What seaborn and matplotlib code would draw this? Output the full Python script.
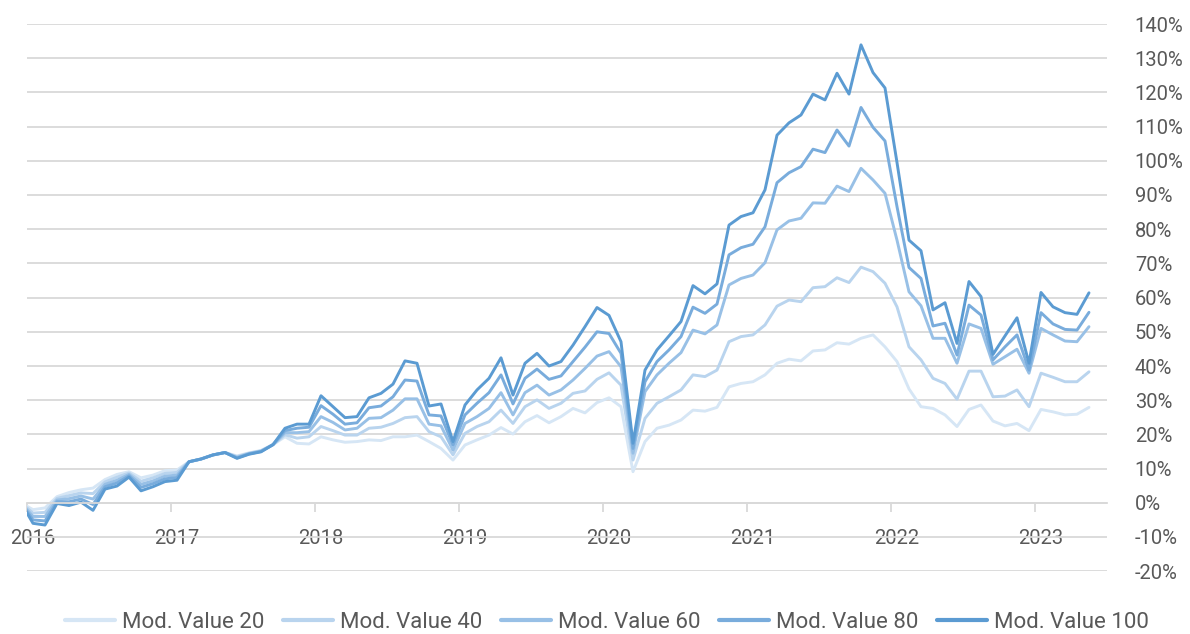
import numpy as np
import pandas as pd
import matplotlib
matplotlib.use("Agg")
import matplotlib.pyplot as plt
import seaborn as sns

# ---- data (monthly, Dec 2015 base = 0 through May 2023), values in % ----
series_names = ["Mod. Value 20", "Mod. Value 40", "Mod. Value 60", "Mod. Value 80", "Mod. Value 100"]
year_labels = ["2016", "2017", "2018", "2019", "2020", "2021", "2022", "2023"]

mod_value_20 = [0.0,
    -2.0, -1.5, 1.8, 3.0, 3.8, 4.3, 6.8, 8.3, 9.1, 7.3, 8.1, 9.4,
    9.6, 12.0, 12.8, 14.0, 14.7, 13.7, 14.6, 15.3, 17.0, 19.3, 17.4, 17.2,
    19.3, 18.4, 17.7, 17.9, 18.4, 18.2, 19.3, 19.3, 19.8, 17.9, 15.9, 12.5,
    16.9, 18.4, 19.8, 22.0, 20.1, 23.7, 25.5, 23.4, 25.2, 27.6, 26.3, 29.3,
    30.7, 28.1, 9.1, 17.9, 21.8, 22.7, 24.2, 27.1, 26.8, 27.9, 33.9, 34.9,
    35.4, 37.4, 40.8, 42.0, 41.5, 44.4, 44.7, 46.8, 46.4, 48.1, 49.1, 45.6,
    41.3, 33.3, 28.1, 27.6, 25.7, 22.3, 27.3, 28.6, 23.9, 22.5, 23.2, 21.1,
    27.3, 26.6, 25.7, 25.9, 27.9]
mod_value_40 = [0.0,
    -3.0, -2.8, 1.3, 2.1, 2.9, 2.7, 6.1, 7.5, 8.7, 6.3, 7.3, 8.6,
    8.9, 12.0, 12.8, 14.0, 14.7, 13.5, 14.5, 15.2, 17.0, 19.9, 18.9, 19.3,
    22.3, 21.1, 19.8, 19.8, 21.8, 22.1, 23.2, 24.9, 25.2, 20.8, 19.3, 14.0,
    20.3, 22.3, 23.7, 27.1, 23.2, 28.1, 30.1, 27.6, 29.1, 32.0, 32.7, 36.1,
    38.0, 34.4, 12.5, 24.7, 29.1, 31.0, 33.0, 37.4, 36.9, 38.8, 47.1, 48.6,
    49.1, 52.0, 57.5, 59.3, 58.8, 62.9, 63.2, 65.8, 64.4, 68.9, 67.6, 64.2,
    57.3, 45.6, 41.8, 36.4, 34.9, 30.3, 38.5, 38.5, 31.0, 31.2, 33.0, 28.1,
    37.9, 36.7, 35.4, 35.4, 38.3]
mod_value_60 = [0.0,
    -4.0, -4.0, 0.8, 1.2, 2.0, 1.1, 5.4, 6.6, 8.3, 5.4, 6.4, 7.8,
    8.1, 12.0, 12.8, 14.0, 14.7, 13.3, 14.4, 15.1, 17.0, 20.5, 20.5, 20.8,
    25.2, 23.5, 21.3, 21.8, 24.7, 24.9, 27.1, 30.4, 30.4, 23.0, 22.5, 15.4,
    23.2, 25.2, 27.6, 32.2, 25.7, 32.2, 34.4, 31.5, 33.0, 35.9, 39.3, 42.9,
    44.2, 39.8, 14.5, 32.5, 37.4, 40.8, 43.9, 50.5, 49.4, 52.0, 63.7, 65.6,
    66.6, 70.2, 79.8, 82.4, 83.2, 87.7, 87.6, 92.6, 91.0, 97.8, 94.4, 90.5,
    76.8, 61.7, 57.6, 48.1, 48.1, 40.8, 52.3, 51.0, 40.5, 42.7, 44.9, 37.9,
    51.0, 49.1, 47.3, 47.1, 51.5]
mod_value_80 = [0.0,
    -5.0, -5.3, 0.3, 0.3, 1.1, -0.5, 4.7, 5.8, 7.9, 4.5, 5.6, 7.0,
    7.4, 12.0, 12.8, 14.0, 14.7, 13.1, 14.3, 15.0, 17.0, 21.1, 21.8, 22.1,
    28.4, 25.9, 23.0, 23.4, 27.8, 28.3, 31.0, 35.9, 35.6, 25.7, 25.4, 16.9,
    25.7, 29.1, 32.2, 37.4, 28.9, 36.4, 39.1, 36.1, 37.1, 41.3, 45.5, 50.0,
    49.5, 43.7, 15.9, 35.4, 41.3, 44.7, 48.6, 57.2, 55.4, 58.1, 72.5, 74.6,
    75.6, 80.7, 93.6, 96.5, 98.3, 103.4, 102.4, 109.0, 104.3, 115.6, 109.8, 105.8,
    86.6, 68.8, 65.6, 51.7, 52.5, 43.2, 57.8, 54.9, 41.8, 45.6, 49.1, 38.8,
    55.6, 52.3, 50.7, 50.5, 55.7]
mod_value_100 = [0.0,
    -6.0, -6.5, -0.2, -0.8, 0.2, -2.2, 4.0, 4.9, 7.5, 3.5, 4.7, 6.2,
    6.6, 12.0, 12.8, 14.0, 14.7, 13.0, 14.2, 14.9, 17.0, 21.8, 23.0, 23.0,
    31.3, 28.1, 24.9, 25.2, 30.7, 32.0, 34.7, 41.5, 40.8, 28.3, 28.9, 17.9,
    28.6, 33.0, 36.4, 42.4, 31.5, 40.8, 43.7, 40.0, 41.3, 46.1, 51.5, 57.1,
    54.8, 47.1, 17.4, 38.8, 44.7, 48.8, 53.0, 63.5, 61.1, 64.0, 81.2, 83.7,
    84.8, 91.5, 107.5, 111.1, 113.4, 119.5, 117.8, 125.6, 119.5, 133.9, 125.8, 121.3,
    99.5, 76.8, 73.7, 56.4, 58.5, 46.6, 64.7, 60.3, 43.4, 48.8, 54.1, 40.8,
    61.5, 57.3, 55.6, 55.1, 61.4]

y_ticks = [-20, -10, 0, 10, 20, 30, 40, 50, 60, 70, 80, 90, 100, 110, 120, 130, 140]

# month index: -1 = Dec 2015, 0 = Jan 2016, ...
month_idx = np.arange(-1, len(mod_value_20) - 1)
all_series = [mod_value_20, mod_value_40, mod_value_60, mod_value_80, mod_value_100]
df = pd.concat(
    [pd.DataFrame({"month": month_idx, "value": vals, "series": name})
     for name, vals in zip(series_names, all_series)],
    ignore_index=True,
)

palette = {
    "Mod. Value 20": "#d6e6f5",
    "Mod. Value 40": "#b9d4ee",
    "Mod. Value 60": "#98c0e6",
    "Mod. Value 80": "#79acdc",
    "Mod. Value 100": "#5b9bd2",
}

sns.set_theme(style="white")
plt.rcParams["font.family"] = ["Roboto", "DejaVu Sans"]
text_color = "#595959"
grid_color = "#d9d9d9"

fig = plt.figure(figsize=(11.9, 6.34), dpi=100)
ax = fig.add_axes([27 / 1190, 1 - 571.2 / 634, (1107 - 27) / 1190, (571.2 - 24) / 634])

sns.lineplot(data=df, x="month", y="value", hue="series", hue_order=series_names,
             palette=palette, linewidth=2.1, ax=ax, legend=True, estimator=None, sort=True)

ax.set_xlim(-0.5, 89.5)
ax.set_ylim(-20, 140)
ax.set_xlabel("")
ax.set_ylabel("")

# y axis on the right with gridlines
ax.yaxis.tick_right()
ax.set_yticks(y_ticks)
ax.set_yticklabels([f"{v}%" for v in y_ticks], fontsize=14.5, color=text_color)
ax.tick_params(axis="y", length=0, pad=20)
ax.yaxis.grid(True, color=grid_color, linewidth=1.3)
ax.xaxis.grid(False)
ax.set_axisbelow(True)

for s in ["top", "left", "right"]:
    ax.spines[s].set_visible(False)
ax.spines["bottom"].set_position(("data", 0))
ax.spines["bottom"].set_color(grid_color)
ax.spines["bottom"].set_linewidth(1.3)

# year boundary ticks (major) and year labels at January (minor)
ax.set_xticks([-0.5 + 12 * i for i in range(len(year_labels))])
ax.set_xticklabels([])
ax.tick_params(axis="x", which="major", bottom=True, length=6.5, width=1.3,
               color=grid_color, direction="out")
ax.set_xticks([12 * i for i in range(len(year_labels))], minor=True)
ax.set_xticklabels(year_labels, minor=True, fontsize=14.5, color=text_color)
ax.tick_params(axis="x", which="minor", bottom=True, length=0, pad=19)

# legend at bottom
handles, labels = ax.get_legend_handles_labels()
for h in handles:
    h.set_linewidth(3)
ax.legend(handles, labels, loc="lower center", bbox_to_anchor=(0.51, -0.03),
          bbox_transform=fig.transFigure, ncol=5, frameon=False, fontsize=16,
          handlelength=2.25, handletextpad=0.3, columnspacing=0.85, labelcolor=text_color)

fig.savefig("out.png", dpi=100)
